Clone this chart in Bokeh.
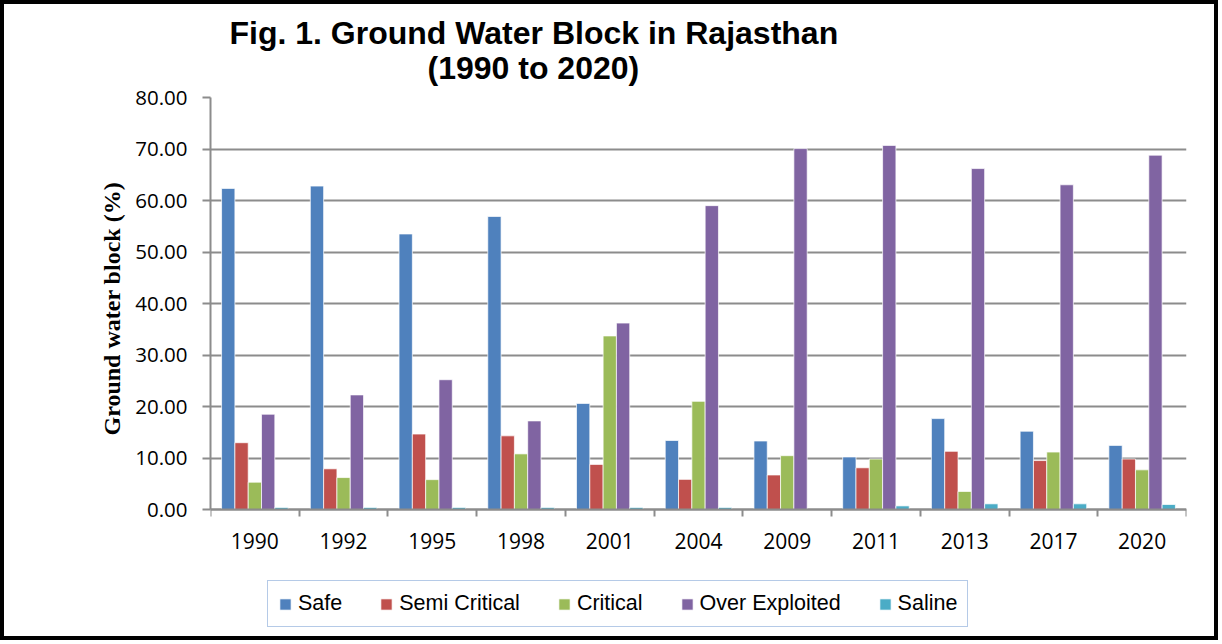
from bokeh.plotting import figure
from bokeh.models import (ColumnDataSource, FixedTicker, Legend, LegendItem, Title,
                          Range1d, NumeralTickFormatter)
from bokeh.embed import file_html
from bokeh.resources import INLINE

# ---- data ----
years = ["1990", "1992", "1995", "1998", "2001", "2004", "2009", "2011", "2013", "2017", "2020"]
series = ["Safe", "Semi Critical", "Critical", "Over Exploited", "Saline"]
safe = [62.35, 62.8, 53.5, 56.9, 20.6, 13.4, 13.3, 10.2, 17.65, 15.2, 12.45]
semi_critical = [12.97, 7.9, 14.65, 14.3, 8.75, 5.85, 6.7, 8.1, 11.3, 9.5, 9.8]
critical = [5.3, 6.2, 5.8, 10.8, 33.7, 21.0, 10.45, 9.8, 3.5, 11.15, 7.7]
over_exploited = [18.5, 22.25, 25.2, 17.2, 36.2, 59.0, 70.08, 70.7, 66.2, 63.05, 68.8]
saline = [0.4, 0.4, 0.4, 0.4, 0.4, 0.4, 0.0, 0.7, 1.1, 1.1, 0.97]
y_ticks = [0, 10, 20, 30, 40, 50, 60, 70, 80]
colors = ["#4F81BD", "#C0504D", "#9BBB59", "#8064A2", "#4BACC6"]
values = [safe, semi_critical, critical, over_exploited, saline]
title_lines = ["Fig. 1. Ground Water Block in Rajasthan", "(1990 to 2020)"]
y_label = "Ground water block (%)"

GRID = "#8c8c8c"
TICK_FONT = "Open Sans"
PX_PER_UNIT = 5.15          # vertical scale of the value axis
BELOW_PX = 119              # room under the zero line for labels and legend

p = figure(width=1218, height=640, output_backend="svg", toolbar_location=None,
           x_range=Range1d(0, len(years)),
           y_range=Range1d(-BELOW_PX / PX_PER_UNIT, 80),
           min_border_left=206, min_border_right=36, min_border_top=93, min_border_bottom=16,
           background_fill_color="white", border_fill_color="white")
p.styles = {"border": "4px solid black"}
p.outline_line_color = None

n = len(series)
bw = 0.15
renderers = []
for k, (name, vals, col) in enumerate(zip(series, values, colors)):
    off = (k - (n - 1) / 2) * bw
    src = ColumnDataSource(dict(x=[i + 0.5 + off for i in range(len(years))], top=vals))
    r = p.vbar(x="x", top="top", bottom=0, width=bw, source=src,
               fill_color=col, line_color="white", line_width=1, line_alpha=0.7)
    renderers.append((name, r))

# x axis at value 0: labels at centres, ticks at boundaries
p.xaxis.fixed_location = 0
p.xaxis.ticker = FixedTicker(ticks=[i + 0.5 for i in range(len(years))],
                             minor_ticks=list(range(len(years) + 1)))
p.xaxis.major_label_overrides = {i + 0.5: y for i, y in enumerate(years)}
p.xaxis.major_tick_out = 0
p.xaxis.major_tick_in = 0
p.xaxis.minor_tick_out = 7
p.xaxis.minor_tick_in = 0
p.xaxis.minor_tick_line_color = GRID
p.xaxis.minor_tick_line_width = 2
p.xaxis.axis_line_color = GRID
p.xaxis.axis_line_width = 2
p.xaxis.major_label_text_font = TICK_FONT
p.xaxis.major_label_text_font_size = "21px"
p.xaxis.major_label_text_color = "black"
p.xaxis.major_label_standoff = 16

# y axis limited to 0..80
p.yaxis.bounds = (0, 80)
p.yaxis.ticker = FixedTicker(ticks=y_ticks)
p.yaxis.formatter = NumeralTickFormatter(format="0.00")
p.yaxis.major_tick_out = 8
p.yaxis.major_tick_in = 0
p.yaxis.major_tick_line_color = GRID
p.yaxis.major_tick_line_width = 2
p.yaxis.minor_tick_line_color = None
p.yaxis.axis_line_color = GRID
p.yaxis.axis_line_width = 2
p.yaxis.major_label_text_font = TICK_FONT
p.yaxis.major_label_text_font_size = "20.5px"
p.yaxis.major_label_text_color = "black"
p.yaxis.major_label_standoff = 15

# y axis title, centred on the 0..80 span
p.add_layout(Title(text=y_label, align="left", offset=193, standoff=16,
                   text_font="Liberation Serif", text_font_style="bold",
                   text_font_size="24px", text_color="black"), "left")

p.xgrid.grid_line_color = None
p.ygrid.ticker = FixedTicker(ticks=y_ticks)
p.ygrid.grid_line_color = GRID
p.ygrid.grid_line_width = 2

# title: two lines, second one nearest the frame
p.add_layout(Title(text=title_lines[1], align="left", offset=217, standoff=23,
                   text_font="Liberation Sans", text_font_style="bold",
                   text_font_size="32px", text_color="black"), "above")
p.add_layout(Title(text=title_lines[0], align="left", offset=19, standoff=-28,
                   text_font="Liberation Sans", text_font_style="bold",
                   text_font_size="32px", text_color="black"), "above")

# legend (inside the frame, under the axis)
legend = Legend(items=[LegendItem(label=name, renderers=[r]) for name, r in renderers],
                location=(57, 1), orientation="horizontal",
                glyph_width=14, glyph_height=14, label_standoff=6,
                spacing=37, padding=10,
                label_text_font="Liberation Sans", label_text_font_size="21.5px",
                label_text_color="black",
                background_fill_color="white", background_fill_alpha=1.0,
                border_line_color="#6b96cf", border_line_width=1.5)
p.add_layout(legend, "center")

open("out.html", "w").write(file_html(p, INLINE))
